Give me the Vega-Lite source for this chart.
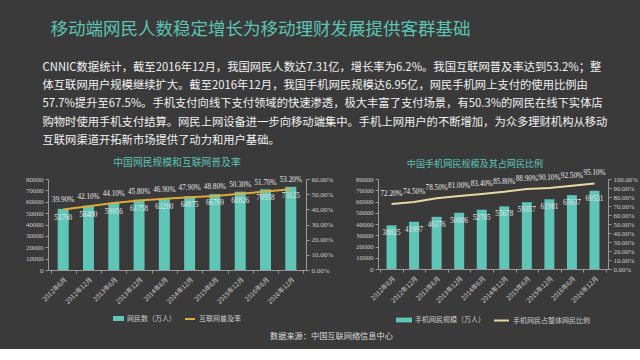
{
  "$schema": "https://vega.github.io/schema/vega-lite/v6.json",
  "background": "#3a3a3a",
  "padding": {"left": 25, "top": 21, "right": 8, "bottom": 8},
  "title": {"text": "数据来源：中国互联网络信息中心", "orient": "bottom", "anchor": "middle", "font": "Noto Sans CJK SC", "fontSize": 8.2, "fontWeight": "normal", "color": "#dddddd", "offset": 8},
  "datasets": {
    "netizens": [
      {"period": "2012年6月", "users": 53760, "rate": 0.399},
      {"period": "2012年12月", "users": 56400, "rate": 0.421},
      {"period": "2013年6月", "users": 59056, "rate": 0.441},
      {"period": "2013年12月", "users": 61758, "rate": 0.458},
      {"period": "2014年6月", "users": 63200, "rate": 0.469},
      {"period": "2014年12月", "users": 64875, "rate": 0.479},
      {"period": "2015年6月", "users": 66769, "rate": 0.488},
      {"period": "2015年12月", "users": 68826, "rate": 0.503},
      {"period": "2016年6月", "users": 70958, "rate": 0.517},
      {"period": "2016年12月", "users": 73125, "rate": 0.532}
    ],
    "mobile": [
      {"period": "2012年6月", "users": 38825, "rate": 0.722},
      {"period": "2012年12月", "users": 41997, "rate": 0.745},
      {"period": "2013年6月", "users": 46376, "rate": 0.785},
      {"period": "2013年12月", "users": 50006, "rate": 0.81},
      {"period": "2014年6月", "users": 52705, "rate": 0.834},
      {"period": "2014年12月", "users": 55678, "rate": 0.858},
      {"period": "2015年6月", "users": 59357, "rate": 0.889},
      {"period": "2015年12月", "users": 61981, "rate": 0.901},
      {"period": "2016年6月", "users": 65637, "rate": 0.925},
      {"period": "2016年12月", "users": 69531, "rate": 0.951}
    ]
  },
  "vconcat": [
    {
      "title": {"text": "移动端网民人数稳定增长为移动理财发展提供客群基础", "anchor": "start", "dx": 25, "font": "Noto Sans CJK SC", "fontSize": 17.5, "fontWeight": "normal", "color": "#5cc4b4", "offset": 23},
      "vconcat": [
        {
          "title": {
            "text": [
              "CNNIC数据统计，截至2016年12月，我国网民人数达7.31亿，增长率为6.2%。我国互联网普及率达到53.2%；整",
              "体互联网用户规模继续扩大。截至2016年12月，我国手机网民规模达6.95亿，网民手机网上支付的使用比例由",
              "57.7%提升至67.5%。手机支付向线下支付领域的快速渗透，极大丰富了支付场景，有50.3%的网民在线下实体店",
              "购物时使用手机支付结算。网民上网设备进一步向移动端集中。手机上网用户的不断增加，为众多理财机构从移动",
              "互联网渠道开拓新市场提供了动力和用户基础。"
            ],
            "anchor": "start", "dx": 17, "font": "Noto Sans CJK SC", "fontSize": 11.3, "fontWeight": "normal", "color": "#f2f2f2", "lineHeight": 18.3, "offset": 12
          },
          "hconcat": [
            {
              "width": 258,
              "height": 91,
              "title": {"text": "中国网民规模和互联网普及率", "font": "Noto Sans CJK SC", "fontSize": 9.8, "fontWeight": "normal", "color": "#5cc4b4", "anchor": "middle", "offset": 7},
              "data": {"name": "netizens"},
              "layer": [
                {
                  "encoding": {
                    "x": {"field": "period", "type": "ordinal", "sort": null, "scale": {"paddingInner": 0, "paddingOuter": 0.1}, "axis": {"title": null, "labelAngle": -45, "labelFont": "Noto Sans CJK SC", "labelFontSize": 6.5, "labelColor": "#cccccc", "domainColor": "#999999", "tickColor": "#999999", "tickBand": "extent", "tickSize": 3, "labelPadding": 3}},
                    "y": {"field": "users", "type": "quantitative", "scale": {"domain": [0, 80000]}, "axis": {"title": null, "values": [0, 10000, 20000, 30000, 40000, 50000, 60000, 70000, 80000], "format": "d", "grid": false, "labelFont": "Liberation Serif", "labelFontSize": 7, "labelColor": "#cccccc", "domainColor": "#999999", "tickColor": "#999999", "tickSize": 3, "labelPadding": 2}}
                  },
                  "layer": [
                    {
                      "mark": {"type": "bar", "width": 11},
                      "encoding": {
                        "fill": {"datum": "网民数（万人）", "type": "nominal", "scale": {"range": ["#5ec5b7"]}, "legend": {"orient": "bottom", "title": null, "symbolType": "M-1,-0.45H1V0.45H-1Z", "symbolSize": 121, "symbolStrokeWidth": 0, "labelFont": "Noto Sans CJK SC", "labelFontSize": 7, "labelColor": "#cccccc", "labelOffset": 3, "offset": 7, "padding": 0}}
                      }
                    },
                    {
                      "mark": {"type": "text", "baseline": "middle", "dy": 9, "font": "Liberation Serif", "fontSize": 7.2, "color": "#e8e8e8"},
                      "encoding": {"text": {"field": "users", "type": "quantitative", "format": "d"}}
                    }
                  ]
                },
                {
                  "encoding": {
                    "x": {"field": "period", "type": "ordinal", "sort": null},
                    "y": {"field": "rate", "type": "quantitative", "scale": {"domain": [0, 0.6]}, "axis": {"title": null, "orient": "right", "values": [0, 0.1, 0.2, 0.3, 0.4, 0.5, 0.6], "format": ".2%", "grid": false, "labelFont": "Liberation Serif", "labelFontSize": 7, "labelColor": "#cccccc", "domainColor": "#999999", "tickColor": "#999999", "tickSize": 3, "labelPadding": 2}}
                  },
                  "layer": [
                    {
                      "mark": {"type": "line", "strokeWidth": 2},
                      "encoding": {
                        "stroke": {"datum": "互联网普及率", "type": "nominal", "scale": {"range": ["#dcaa38"]}, "legend": {"orient": "bottom", "title": null, "symbolType": "stroke", "symbolSize": 100, "symbolStrokeWidth": 2, "labelFont": "Noto Sans CJK SC", "labelFontSize": 7, "labelColor": "#cccccc", "labelOffset": 3, "offset": 7, "padding": 0}}
                      }
                    },
                    {
                      "mark": {"type": "text", "baseline": "middle", "dy": -9, "font": "Liberation Serif", "fontSize": 7.2, "color": "#e8e8e8"},
                      "encoding": {"text": {"field": "rate", "type": "quantitative", "format": ".2%"}}
                    }
                  ]
                }
              ],
              "resolve": {"scale": {"y": "independent"}}
            },
            {
              "width": 230,
              "height": 90,
              "title": {"text": "中国手机网民规模及其占网民比例", "font": "Noto Sans CJK SC", "fontSize": 9.1, "fontWeight": "normal", "color": "#5cc4b4", "anchor": "middle", "offset": 0, "dx": -18},
              "data": {"name": "mobile"},
              "layer": [
                {
                  "encoding": {
                    "x": {"field": "period", "type": "ordinal", "sort": null, "scale": {"paddingInner": 0, "paddingOuter": 0.1}, "axis": {"title": null, "labelAngle": -45, "labelFont": "Noto Sans CJK SC", "labelFontSize": 6.5, "labelColor": "#cccccc", "domainColor": "#999999", "tickColor": "#999999", "tickBand": "extent", "tickSize": 3, "labelPadding": 3}},
                    "y": {"field": "users", "type": "quantitative", "scale": {"domain": [0, 80000]}, "axis": {"title": null, "values": [0, 10000, 20000, 30000, 40000, 50000, 60000, 70000, 80000], "format": "d", "grid": false, "labelFont": "Liberation Serif", "labelFontSize": 7, "labelColor": "#cccccc", "domainColor": "#999999", "tickColor": "#999999", "tickSize": 3, "labelPadding": 2}}
                  },
                  "layer": [
                    {
                      "mark": {"type": "bar", "width": 10},
                      "encoding": {
                        "fill": {"datum": "手机网民规模（万人）", "type": "nominal", "scale": {"range": ["#5ec5b7"]}, "legend": {"orient": "bottom", "title": null, "symbolType": "M-1,-0.3H1V0.3H-1Z", "symbolSize": 256, "symbolStrokeWidth": 0, "labelFont": "Noto Sans CJK SC", "labelFontSize": 7, "labelColor": "#cccccc", "labelOffset": 3, "offset": 7, "padding": 0}}
                      }
                    },
                    {
                      "mark": {"type": "text", "baseline": "middle", "dy": 8, "font": "Liberation Serif", "fontSize": 7.2, "color": "#e8e8e8"},
                      "encoding": {"text": {"field": "users", "type": "quantitative", "format": "d"}}
                    }
                  ]
                },
                {
                  "encoding": {
                    "x": {"field": "period", "type": "ordinal", "sort": null},
                    "y": {"field": "rate", "type": "quantitative", "scale": {"domain": [0, 1]}, "axis": {"title": null, "orient": "right", "values": [0, 0.1, 0.2, 0.3, 0.4, 0.5, 0.6, 0.7, 0.8, 0.9, 1], "format": ".2%", "grid": false, "labelFont": "Liberation Serif", "labelFontSize": 6.8, "labelColor": "#cccccc", "domainColor": "#999999", "tickColor": "#999999", "tickSize": 3, "labelPadding": 2}}
                  },
                  "layer": [
                    {
                      "mark": {"type": "line", "strokeWidth": 2},
                      "encoding": {
                        "stroke": {"datum": "手机网民占整体网民比例", "type": "nominal", "scale": {"range": ["#e6d9a5"]}, "legend": {"orient": "bottom", "title": null, "symbolType": "stroke", "symbolSize": 225, "symbolStrokeWidth": 2, "labelFont": "Noto Sans CJK SC", "labelFontSize": 7, "labelColor": "#cccccc", "labelOffset": 3, "offset": 7, "padding": 0}}
                      }
                    },
                    {
                      "mark": {"type": "text", "baseline": "middle", "dy": -10, "font": "Liberation Serif", "fontSize": 7.2, "color": "#e8e8e8"},
                      "encoding": {"text": {"field": "rate", "type": "quantitative", "format": ".2%"}}
                    }
                  ]
                }
              ],
              "resolve": {"scale": {"y": "independent"}}
            }
          ],
          "spacing": 22,
          "resolve": {"scale": {"fill": "independent", "stroke": "independent"}, "legend": {"fill": "independent", "stroke": "independent"}}
        }
      ]
    }
  ],
  "config": {
    "view": {"stroke": null},
    "concat": {"spacing": 0},
    "legend": {"layout": {"bottom": {"anchor": "middle"}}}
  }
}
